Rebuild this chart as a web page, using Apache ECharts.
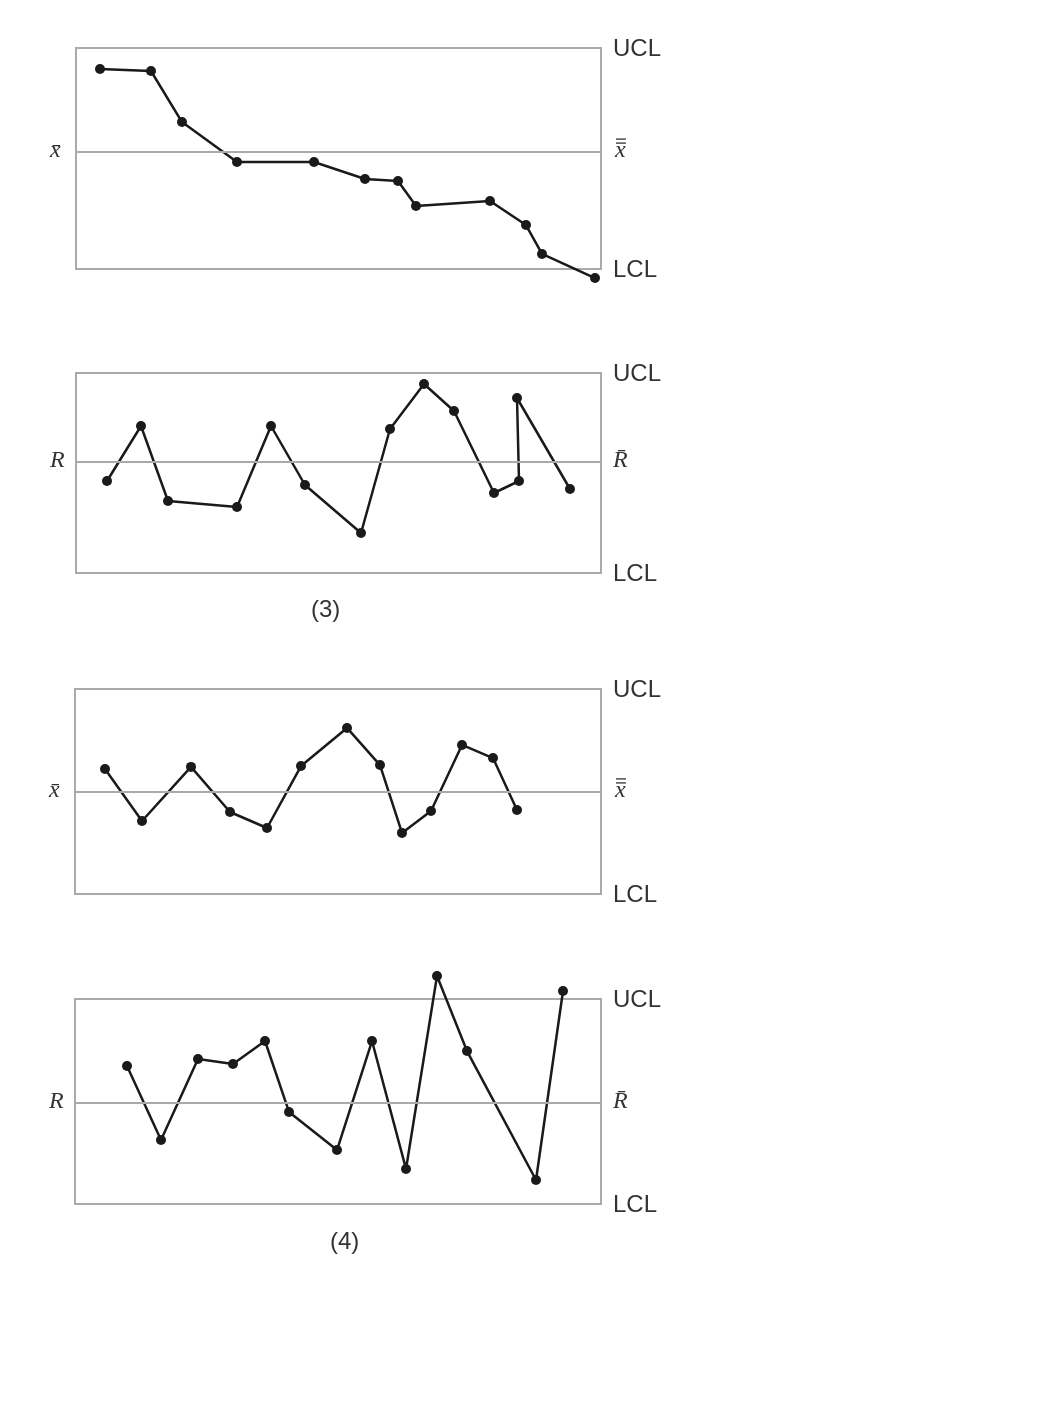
<!DOCTYPE html>
<html><head><meta charset="utf-8">
<script src="https://cdn.jsdelivr.net/npm/echarts@6/dist/echarts.min.js"></script>
<style>html,body{margin:0;background:#fff}#c{width:1040px;height:1416px}</style>
</head><body><div id="c"></div>
<script>
// Each panel: y scale LCL=0, UCL=10
const p1x=[24,75,106,161,238,289,322,340,414,450,466,519];
const p1y=[9.05,8.96,6.65,4.84,4.84,4.07,3.98,2.85,3.08,1.99,0.68,-0.41];
const p1cl=5.29;
const p2x=[31,65,92,161,195,229,285,314,348,378,418,443,441,494];
const p2y=[4.6,7.35,3.6,3.3,7.35,4.4,2.0,7.2,9.45,8.1,4.0,4.6,8.75,4.2];
const p2cl=5.55;
const p3x=[30,67,116,155,192,226,272,305,327,356,387,418,442];
const p3y=[6.1,3.56,6.2,4.0,3.22,6.24,8.1,6.29,2.98,4.05,7.27,6.63,4.1];
const p3cl=4.98;
const p4x=[52,86,123,158,190,214,262,297,331,362,392,461,488];
const p4y=[6.73,3.12,7.07,6.83,7.95,4.49,2.63,7.95,1.71,11.12,7.46,1.17,10.39];
const p4cl=4.93;
const panels=[[p1x,p1y,p1cl],[p2x,p2y,p2cl],[p3x,p3y,p3cl],[p4x,p4y,p4cl]];
const grids=[{left:76,width:525,top:48,height:221},{left:76,width:525,top:373,height:200},{left:75,width:526,top:689,height:205},{left:75,width:526,top:999,height:205}];
const chart=echarts.init(document.getElementById('c'));
const opt={animation:false,grid:[],xAxis:[],yAxis:[],series:[],graphic:[]};
panels.forEach((p,i)=>{
  const g=grids[i];
  opt.grid.push(Object.assign({show:true,borderColor:'#aaa',borderWidth:2,backgroundColor:'transparent'},g));
  opt.xAxis.push({type:'value',gridIndex:i,min:0,max:g.width,show:false});
  opt.yAxis.push({type:'value',gridIndex:i,min:0,max:10,show:false});
  opt.series.push({type:'line',xAxisIndex:i,yAxisIndex:i,clip:false,data:p[0].map((x,k)=>[x,p[1][k]]),
    symbol:'circle',symbolSize:10,itemStyle:{color:'#1a1a1a'},lineStyle:{color:'#1a1a1a',width:2.5},
    markLine:{silent:true,symbol:'none',label:{show:false},lineStyle:{color:'#aaa',type:'solid',width:2},data:[{yAxis:p[2]}]}});
  const clY=g.top+g.height*(1-p[2]/10);
  const r=g.left+g.width+12;
  const T=(x,y,t,o)=>opt.graphic.push({type:'text',left:x,top:y,style:Object.assign({text:t,fill:'#333',font:'24px "Liberation Sans"'},o||{})});
  T(r,g.top-11,'UCL');T(r,g.top+g.height-11,'LCL');
  const isR=(i%2==1);
  const serif='italic 24px "Liberation Serif"';
  if(isR){T(r,clY-13,'R\u0304',{font:serif});}
  else{
    T(r+2,clY-13,'x',{font:serif});
    [clY-13,clY-9].forEach(yy=>opt.graphic.push({type:'line',shape:{x1:r+3,y1:yy,x2:r+13,y2:yy},style:{stroke:'#333',lineWidth:1.3}}));
  }
  T(g.left-26,clY-13,isR?'R':'x\u0304',{font:serif});
});
opt.graphic.push({type:'text',left:311,top:598,style:{text:'(3)',fill:'#333',font:'24px "Liberation Sans"'}});
opt.graphic.push({type:'text',left:330,top:1230,style:{text:'(4)',fill:'#333',font:'24px "Liberation Sans"'}});
chart.setOption(opt);
</script></body></html>
